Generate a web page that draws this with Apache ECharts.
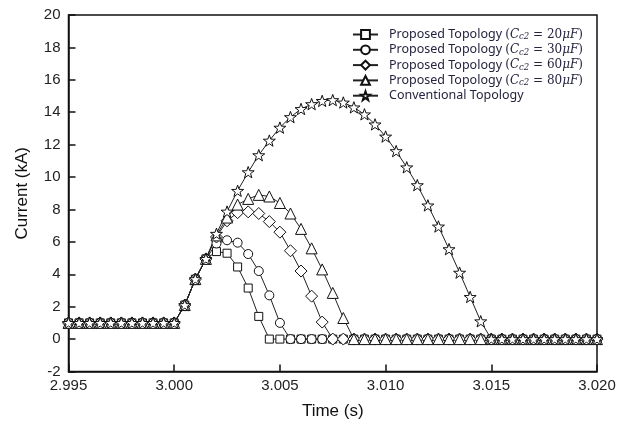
<!DOCTYPE html>
<html>
<head>
<meta charset="utf-8">
<script src="https://cdn.jsdelivr.net/npm/echarts@6/dist/echarts.min.js"></script>
<style>
  html, body { margin: 0; padding: 0; background: #fff; }
  #chart { width: 630px; height: 425px; }
</style>
</head>
<body>
<div id="chart"></div>
<script>
// time stamps (s), every 0.5 ms
const times = [
  2.995, 2.9955, 2.996, 2.9965, 2.997, 2.9975, 2.998, 2.9985, 2.999, 2.9995,
  3.000, 3.0005, 3.001, 3.0015, 3.002, 3.0025, 3.003, 3.0035, 3.004, 3.0045,
  3.005, 3.0055, 3.006, 3.0065, 3.007, 3.0075, 3.008, 3.0085, 3.009, 3.0095,
  3.010, 3.0105, 3.011, 3.0115, 3.012, 3.0125, 3.013, 3.0135, 3.014, 3.0145,
  3.015, 3.0155, 3.016, 3.0165, 3.017, 3.0175, 3.018, 3.0185, 3.019, 3.0195,
  3.020
];

// current (kA)
const propCc20 = [
  1, 1, 1, 1, 1, 1, 1, 1, 1, 1,
  1, 2.1, 3.7, 4.95, 5.4, 5.3, 4.45, 3.15, 1.4, 0,
  0, 0, 0, 0, 0, 0, 0, 0, 0, 0,
  0, 0, 0, 0, 0, 0, 0, 0, 0, 0,
  0, 0, 0, 0, 0, 0, 0, 0, 0, 0,
  0
];
const propCc30 = [
  1, 1, 1, 1, 1, 1, 1, 1, 1, 1,
  1, 2.1, 3.7, 4.95, 5.9, 6.1, 5.95, 5.25, 4.2, 2.7,
  1.0, 0, 0, 0, 0, 0, 0, 0, 0, 0,
  0, 0, 0, 0, 0, 0, 0, 0, 0, 0,
  0, 0, 0, 0, 0, 0, 0, 0, 0, 0,
  0
];
const propCc60 = [
  1, 1, 1, 1, 1, 1, 1, 1, 1, 1,
  1, 2.1, 3.7, 4.95, 6.3, 7.3, 7.8, 7.85, 7.75, 7.25,
  6.6, 5.45, 4.2, 2.65, 1.05, 0, 0, 0, 0, 0,
  0, 0, 0, 0, 0, 0, 0, 0, 0, 0,
  0, 0, 0, 0, 0, 0, 0, 0, 0, 0,
  0
];
const propCc80 = [
  1, 1, 1, 1, 1, 1, 1, 1, 1, 1,
  1, 2.1, 3.7, 4.95, 6.4, 7.5, 8.3, 8.65, 8.9, 8.8,
  8.4, 7.75, 6.8, 5.6, 4.3, 2.85, 1.3, 0, 0, 0,
  0, 0, 0, 0, 0, 0, 0, 0, 0, 0,
  0, 0, 0, 0, 0, 0, 0, 0, 0, 0,
  0
];
const conventional = [
  1, 1, 1, 1, 1, 1, 1, 1, 1, 1,
  1, 2.1, 3.7, 4.95, 6.5, 7.87, 9.15, 10.3, 11.35, 12.25,
  13.05, 13.7, 14.2, 14.5, 14.7, 14.75, 14.6, 14.3, 13.87, 13.25,
  12.5, 11.6, 10.6, 9.5, 8.25, 6.95, 5.55, 4.1, 2.6, 1.1,
  0, 0, 0, 0, 0, 0, 0, 0, 0, 0,
  0
];

const capacitances = ["20", "30", "60", "80"];
const yTicks = { min: -2, max: 20, step: 2 };
const xTicks = { min: 2.995, max: 3.02, step: 0.005 };

const STAR = "path://M0,-10L2.35,-3.24L9.51,-3.09L3.8,1.24L5.88,8.09L0,4L-5.88,8.09L-3.8,1.24L-9.51,-3.09L-2.35,-3.24Z";
const axisFont = '"Liberation Sans", Arial, sans-serif';
const legendFont = '"Noto Sans", "Open Sans", sans-serif';
const mathFont = '"DejaVu Serif", serif';
const legendColor = "#24243f";

function pairs(values) {
  return values.map((v, i) => [times[i], v]);
}

function lineSeries(name, values, symbol, size) {
  return {
    name,
    type: "line",
    data: pairs(values),
    symbol,
    symbolSize: size,
    symbolKeepAspect: true,
    showAllSymbol: true,
    clip: false,
    lineStyle: { color: "#222", width: 1 },
    itemStyle: { color: "#fff", borderColor: "#111", borderWidth: 1 },
    emphasis: { disabled: true },
    animation: false,
  };
}

const names = capacitances.map(c => `Proposed Topology (Cc2 = ${c}μF)`).concat(["Conventional Topology"]);

const chart = echarts.init(document.getElementById("chart"), null, { renderer: "canvas" });
chart.setOption({
  backgroundColor: "#fff",
  animation: false,
  grid: {
    left: 68.5, right: 33, top: 15, bottom: 53.5,
    show: true, borderColor: "#111", borderWidth: 1.5, backgroundColor: "transparent",
  },
  legend: {
    orient: "vertical",
    left: 347,
    top: 23,
    itemGap: 1.8,
    itemWidth: 25,
    itemHeight: 11,
    data: names,
    formatter(name) {
      const m = name.match(/= (\d+)/);
      if (!m) {
        return `{n|${name}}`;
      }
      return `{n|Proposed Topology} {m|(}{i|C}{s|c2}{m| = ${m[1]}}{i|μF}{m|)}`;
    },
    textStyle: {
      color: legendColor,
      fontFamily: legendFont,
      fontSize: 12.5,
      rich: {
        n: { fontFamily: legendFont, fontSize: 12.5, color: legendColor, padding: [0, 0, 0, 6] },
        m: { fontFamily: mathFont, fontSize: 12, color: legendColor },
        i: { fontFamily: mathFont, fontStyle: "italic", fontSize: 12, color: legendColor },
        s: { fontFamily: mathFont, fontStyle: "italic", fontSize: 8.5, color: legendColor, padding: [5, 0, 0, 0] },
      },
    },
  },
  xAxis: {
    type: "value",
    min: xTicks.min,
    max: xTicks.max,
    interval: xTicks.step,
    name: "Time (s)",
    nameLocation: "middle",
    nameGap: 31,
    nameTextStyle: { color: "#111", fontFamily: axisFont, fontSize: 17 },
    axisLine: { onZero: false, lineStyle: { color: "#111", width: 1.5 } },
    axisTick: { inside: true, length: 7, lineStyle: { color: "#111", width: 1.5 } },
    axisLabel: {
      color: "#222", fontFamily: axisFont, fontSize: 15, margin: 7,
      formatter: v => v.toFixed(3),
    },
    splitLine: { show: false },
  },
  yAxis: {
    type: "value",
    min: yTicks.min,
    max: yTicks.max,
    interval: yTicks.step,
    name: "Current (kA)",
    nameLocation: "middle",
    nameGap: 38,
    nameTextStyle: { color: "#111", fontFamily: axisFont, fontSize: 17 },
    axisLine: { show: true, onZero: false, lineStyle: { color: "#111", width: 1.5 } },
    axisTick: { show: true, inside: true, length: 7, lineStyle: { color: "#111", width: 1.5 } },
    axisLabel: { color: "#222", fontFamily: axisFont, fontSize: 15, margin: 8 },
    splitLine: { show: false },
  },
  series: [
    lineSeries(names[0], propCc20, "rect", 8),
    lineSeries(names[1], propCc30, "circle", 9),
    lineSeries(names[2], propCc60, "diamond", 12),
    lineSeries(names[3], propCc80, "triangle", 11),
    lineSeries(names[4], conventional, STAR, 12),
  ],
});
</script>
</body>
</html>
